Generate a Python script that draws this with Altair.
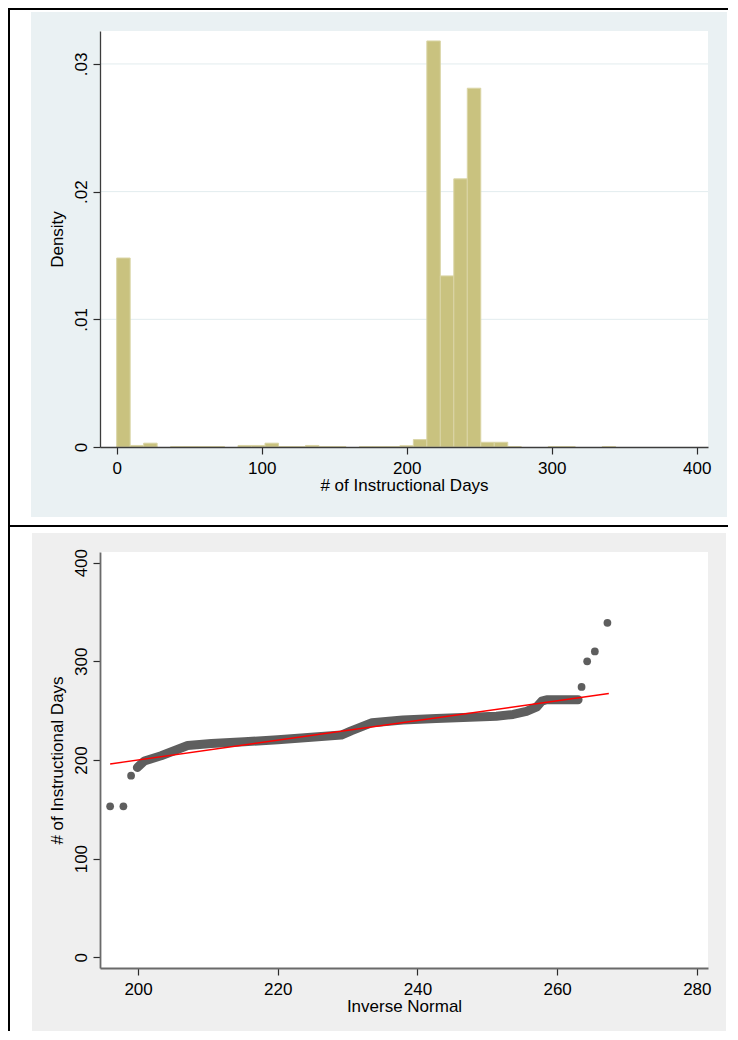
import altair as alt
import pandas as pd

# ---------------- data ----------------
# Histogram: density per bin (equal-width bins starting at 0)
BIN_WIDTH = 9.3
density = [0.0148, 0.00012, 0.0003, 0.0, 0.00003, 0.00003, 0.00003, 0.00003,
           0.0, 0.00012, 0.00012, 0.0003, 0.00003, 0.00003, 0.00012, 0.00003,
           0.00003, 0.0, 0.00003, 0.00003, 0.00003, 0.0001, 0.00058, 0.0318,
           0.0134, 0.0210, 0.0281, 0.00037, 0.00037, 0.00003, 0.0, 0.0,
           0.00003, 0.00003, 0.0, 0.0, 0.00003]
hist_x_ticks = [0, 100, 200, 300, 400]
hist_y_ticks = [0, 0.01, 0.02, 0.03]
hist_grid = [0.01, 0.02, 0.03]

# Q-Q plot: dense band of sorted values vs inverse normal (traced), outliers, reference line
band_x = [199.9, 200.9, 203.3, 207.1, 210.5, 215.2, 220.0, 224.8, 229.1, 230.5,
          233.5, 237.9, 242.7, 247.5, 251.3, 253.7, 255.6, 257.1, 257.8, 258.5, 263.0]
band_y = [192.4, 199.0, 204.2, 214.7, 216.7, 218.4, 220.4, 223.1, 225.2, 229.5,
          237.8, 240.6, 242.1, 243.4, 244.4, 246.1, 249.2, 253.9, 259.6, 261.0, 261.0]
point_x = [196.0, 197.9, 199.0, 263.5, 264.3, 265.4, 267.2]
point_y = [153.0, 153.0, 184.0, 274.0, 300.0, 310.0, 339.0]
ref_x = [196.0, 267.4]
ref_y = [196.0, 267.4]
qq_x_ticks = [200, 220, 240, 260, 280]
qq_y_ticks = [0, 100, 200, 300, 400]

# ---------------- tables ----------------
hist_df = pd.DataFrame({
    "left": [round(i * BIN_WIDTH, 2) for i in range(len(density))],
    "right": [round((i + 1) * BIN_WIDTH, 2) for i in range(len(density))],
    "density": density,
})
hist_df = hist_df[hist_df["density"] > 0]
grid_df = pd.DataFrame({"density": hist_grid})
band_df = pd.DataFrame({"x": band_x, "y": band_y, "o": list(range(len(band_x)))})
pts_df = pd.DataFrame({"x": point_x, "y": point_y})
ref_df = pd.DataFrame({"x": ref_x, "y": ref_y})

W, H = 608, 416
FONT = "Liberation Sans"
FS = 17


def deco(x, x2, y, y2, color):
    return alt.Chart(alt.Data(values=[{}])).mark_rect(color=color).encode(
        x=alt.value(x), x2=alt.value(x2), y=alt.value(y), y2=alt.value(y2))


def axis(values, title, orient, dom_color, dom_w, extra=None):
    kw = dict(values=values, title=title, grid=False, tickSize=7, tickColor="#2b2b2b",
              tickWidth=1.2, domainColor=dom_color, domainWidth=dom_w,
              labelFont=FONT, labelFontSize=FS, labelColor="#000000",
              titleFont=FONT, titleFontSize=FS, titleFontWeight="normal",
              titleColor="#000000", labelFlush=False, labelOverlap=False, zindex=1)
    if orient == "bottom":
        kw.update(labelPadding=6, titlePadding=1)
    else:
        kw.update(labelAngle=270, labelAlign="center", labelBaseline="bottom",
                  labelPadding=3, titlePadding=6, titleAngle=270)
    if extra:
        kw.update(extra)
    return alt.Axis(**kw)


# ---------------- top panel: histogram ----------------
hx_scale = alt.Scale(domain=[-11.5, 407.8], nice=False, zero=False)
hy_scale = alt.Scale(domain=[0, 0.03258], nice=False, zero=False)
hx_axis = axis(hist_x_ticks, "# of Instructional Days", "bottom", "#3c3c3c", 1.3)
hy_axis = axis(hist_y_ticks, "Density", "left", "#3c3c3c", 1.3,
               {"labelExpr": "datum.value == 0 ? '0' : replace(format(datum.value, '.2f'), '0.', '.')"})

grid = alt.Chart(grid_df).mark_rule(color="#E2ECEE", strokeWidth=1).encode(
    y=alt.Y("density:Q", scale=hy_scale, axis=hy_axis),
    x=alt.value(0), x2=alt.value(W))

bars = alt.Chart(hist_df).mark_rect(color="#C9C27F", stroke="#DAD5A6", strokeWidth=1).encode(
    x=alt.X("left:Q", scale=hx_scale, axis=hx_axis),
    x2="right:Q",
    y=alt.Y("density:Q", scale=hy_scale, axis=hy_axis),
    y2=alt.datum(0))

top = alt.layer(
    deco(-92, 628, -23, -21, "#000000"),
    deco(-92, -90, -23, 496, "#000000"),
    deco(-92, 628, 494, 496, "#000000"),
    deco(-69, 627, -19, 486, "#EAF1F3"),
    deco(0, W, 0, H, "#FFFFFF"),
    grid, bars,
).properties(width=W, height=H)

# ---------------- bottom panel: Q-Q plot ----------------
qx_scale = alt.Scale(domain=[194.55, 281.6], nice=False, zero=False)
qy_scale = alt.Scale(domain=[-10.9, 410.8], nice=False, zero=False)
qx_axis = axis(qq_x_ticks, "Inverse Normal", "bottom", "#6a6a6a", 1.8)
qy_axis = axis(qq_y_ticks, "# of Instructional Days", "left", "#6a6a6a", 1.8)

band = alt.Chart(band_df).mark_line(color="#5E5E5E", strokeWidth=9, strokeCap="round",
                                    strokeJoin="round").encode(
    x=alt.X("x:Q", scale=qx_scale, axis=qx_axis),
    y=alt.Y("y:Q", scale=qy_scale, axis=qy_axis),
    order="o:Q")
pts = alt.Chart(pts_df).mark_circle(size=60, color="#5E5E5E", opacity=1).encode(
    x=alt.X("x:Q", scale=qx_scale, axis=qx_axis),
    y=alt.Y("y:Q", scale=qy_scale, axis=qy_axis))
ref = alt.Chart(ref_df).mark_line(color="#FF0000", strokeWidth=1.5).encode(
    x=alt.X("x:Q", scale=qx_scale, axis=qx_axis),
    y=alt.Y("y:Q", scale=qy_scale, axis=qy_axis))

bottom = alt.layer(
    deco(-92, -90, -25, 479, "#000000"),
    deco(-68, 626, -19, 479, "#EFEFEF"),
    deco(0, W, 0, H, "#FFFFFF"),
    band, pts, ref,
).properties(width=W, height=H)

chart = alt.vconcat(top, bottom, spacing=0).properties(
    padding=0, background="#FFFFFF"
).configure_view(strokeWidth=0)

chart.save("out.html", embed_options={"renderer": "svg", "actions": False})
